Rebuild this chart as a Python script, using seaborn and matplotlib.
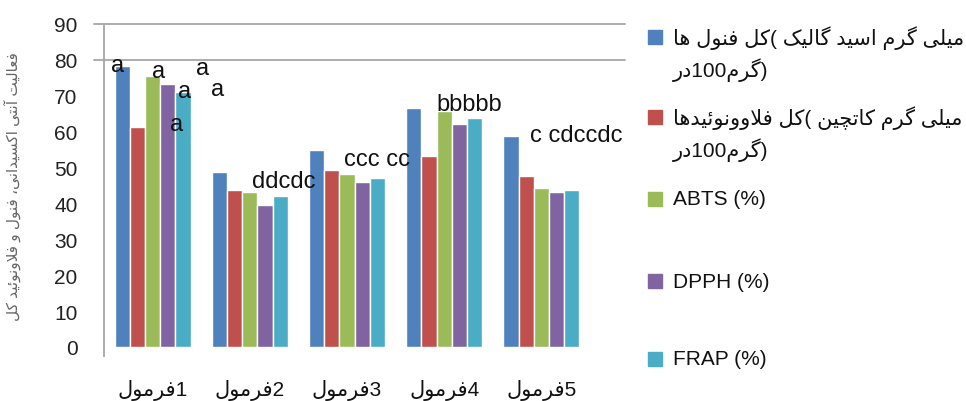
import pandas as pd
import seaborn as sns
import matplotlib.pyplot as plt
from matplotlib.patches import Rectangle

# data
formulas = ['1فرمول', '2فرمول', '3فرمول', '4فرمول', '5فرمول']
series = ['phenol', 'flavonoid', 'ABTS (%)', 'DPPH (%)', 'FRAP (%)']
phenol = [78.3, 48.8, 54.9, 66.6, 58.8]
flavonoid = [61.3, 43.8, 49.3, 53.2, 47.6]
abts = [75.5, 43.2, 48.2, 65.7, 44.3]
dpph = [73.3, 39.7, 46.0, 62.1, 43.2]
frap = [71.0, 42.1, 47.1, 63.8, 43.7]
legend_lines = [
    ['میلی گرم اسید گالیک )کل فنول ها', '(گرم100در'],
    ['میلی گرم کاتچین )کل فلاوونوئیدها', '(گرم100در'],
    ['ABTS (%)'], ['DPPH (%)'], ['FRAP (%)'],
]
ylabel = 'فعالیت آنتی اکسیدانی، فنول و فلاونوئید کل'
group_letters = ['ddcdc', 'ccc cc', 'bbbbb', 'c cdccdc']
colors = ['#4F81BD', '#C0504D', '#9BBB59', '#8064A2', '#4BACC6']

# minimal arabic shaping + rtl ordering: matplotlib draws letters unjoined, left to right
FORMS = {
    'ا': (0xFE8D, 0xFE8E), 'آ': (0xFE81, 0xFE82), 'د': (0xFEA9, 0xFEAA),
    'ر': (0xFEAD, 0xFEAE), 'ز': (0xFEAF, 0xFEB0), 'و': (0xFEED, 0xFEEE),
    'ب': (0xFE8F, 0xFE90, 0xFE91, 0xFE92), 'پ': (0xFB56, 0xFB57, 0xFB58, 0xFB59),
    'ت': (0xFE95, 0xFE96, 0xFE97, 0xFE98), 'ج': (0xFE9D, 0xFE9E, 0xFE9F, 0xFEA0),
    'چ': (0xFB7A, 0xFB7B, 0xFB7C, 0xFB7D), 'س': (0xFEB1, 0xFEB2, 0xFEB3, 0xFEB4),
    'ع': (0xFEC9, 0xFECA, 0xFECB, 0xFECC), 'ف': (0xFED1, 0xFED2, 0xFED3, 0xFED4),
    'ک': (0xFB8E, 0xFB8F, 0xFB90, 0xFB91), 'گ': (0xFB92, 0xFB93, 0xFB94, 0xFB95),
    'ل': (0xFEDD, 0xFEDE, 0xFEDF, 0xFEE0), 'م': (0xFEE1, 0xFEE2, 0xFEE3, 0xFEE4),
    'ن': (0xFEE5, 0xFEE6, 0xFEE7, 0xFEE8), 'ه': (0xFEE9, 0xFEEA, 0xFEEB, 0xFEEC),
    'ی': (0xFBFC, 0xFBFD, 0xFBFE, 0xFBFF), 'ئ': (0xFE89, 0xFE8A, 0xFE8B, 0xFE8C),
}
MIRROR = {'(': ')', ')': '('}


def shape_word(w):
    out = []
    i = 0
    while i < len(w):
        c = w[i]
        prev_joins = i > 0 and len(FORMS.get(w[i - 1], ())) == 4
        if c == 'ل' and i + 1 < len(w) and w[i + 1] == 'ا':
            out.append(chr(0xFEFC if prev_joins else 0xFEFB))
            i += 2
            continue
        f = FORMS[c]
        next_joins = len(f) == 4 and i + 1 < len(w) and w[i + 1] in FORMS
        if prev_joins and next_joins:
            out.append(chr(f[3]))
        elif prev_joins:
            out.append(chr(f[1]))
        elif next_joins:
            out.append(chr(f[2]))
        else:
            out.append(chr(f[0]))
        i += 1
    return ''.join(out[::-1])


def fa(s):
    if not any(c in FORMS for c in s):
        return s
    runs = []
    for c in s:
        kind = 'a' if c in FORMS else ('d' if c.isalnum() else 'n')
        if runs and runs[-1][0] == kind and kind != 'n':
            runs[-1][1] += c
        else:
            runs.append([kind, c])
    res = ''
    for kind, t in reversed(runs):
        if kind == 'a':
            res += shape_word(t)
        elif kind == 'd':
            res += t
        else:
            res += MIRROR.get(t, t)
    return res


sns.set_style('white')
plt.rcParams['font.family'] = ['Liberation Sans', 'DejaVu Sans']

df = pd.DataFrame({
    'formula': [fa(f) for f in formulas] * 5,
    'series': [s for s in series for _ in formulas],
    'value': phenol + flavonoid + abts + dpph + frap,
})

fig = plt.figure(figsize=(9.66, 4.02), dpi=100)
ax = fig.add_axes([104 / 966, 54 / 402, 521 / 966, 323 / 402])
sns.barplot(data=df, x='formula', y='value', hue='series', palette=colors,
            saturation=1, width=0.78, ax=ax, legend=False)
ax.set_ylim(0, 90)
ax.set_xlim(-0.5, 4.86)
ax.set_yticks(range(0, 91, 10))
ax.set_xlabel('')
ax.set_ylabel('')
ax.tick_params(axis='y', length=0, pad=19, labelsize=15, labelcolor='#222222')
ax.tick_params(axis='x', length=0, pad=23, labelsize=15, labelcolor='#111111')
for s in ['top', 'right', 'bottom']:
    ax.spines[s].set_visible(False)
ax.spines['left'].set_color('#a6a6a6')
ax.spines['left'].set_linewidth(1.3)
ax.spines['left'].set_bounds(-2.5, 90)
for y in [80, 90]:
    ax.axhline(y, xmin=-0.02, color='#a6a6a6', lw=1.3, clip_on=False, zorder=0)

# significance letters
lab = dict(fontsize=17, color='#111111', ha='center', va='center')
for x, y in [(-0.36, 78.6), (0.06, 76.9), (0.51, 77.7), (0.67, 71.9), (0.33, 71.3), (0.25, 62.1)]:
    ax.text(x, y, 'a', **lab)
for i, (x, y) in enumerate([(1.35, 46.2), (2.31, 52.4), (3.26, 67.7), (4.36, 59.0)]):
    ax.text(x, y, group_letters[i], **lab)

fig.text(12 / 966, 0.535, fa(ylabel), rotation=90, ha='center', va='center',
         fontsize=11, color='#666666')

# legend
rows = [(38, 70), (118, 150), (200,), (282,), (360,)]
for lines, ys, c in zip(legend_lines, rows, colors):
    fig.patches.append(Rectangle((648 / 966, 1 - (ys[0] + 7) / 402), 14 / 966, 14 / 402,
                                 transform=fig.transFigure, color=c, figure=fig))
    for t, y in zip(lines, ys):
        fig.text(673 / 966, 1 - y / 402, fa(t), ha='left', va='center',
                 fontsize=15, color='#111111')

fig.savefig('out.png', dpi=100)
